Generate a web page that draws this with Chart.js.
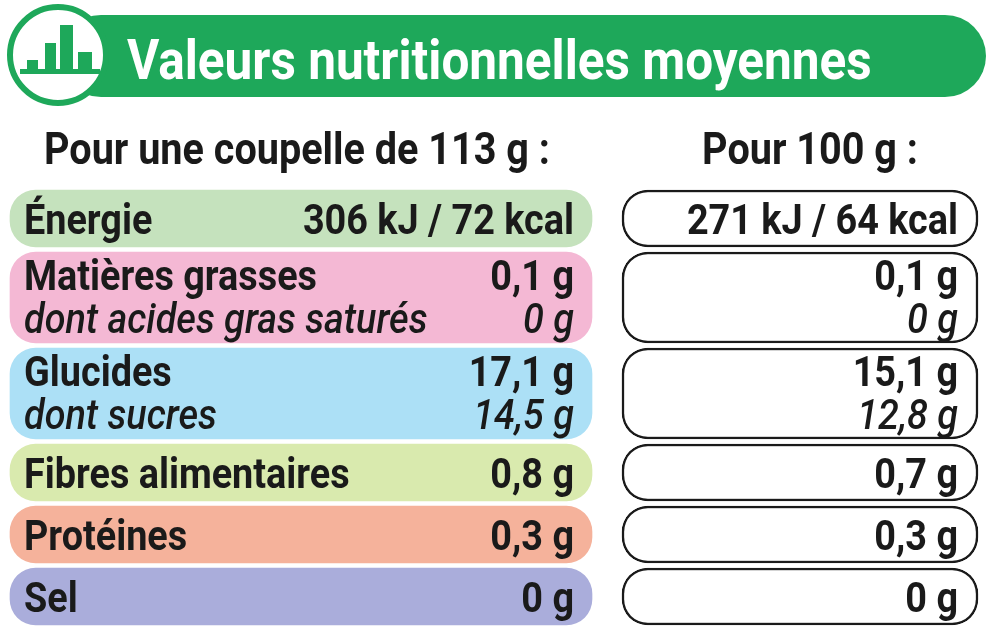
<!DOCTYPE html>
<html>
<head>
<meta charset="utf-8">
<script src="https://cdn.jsdelivr.net/npm/chart.js@4"></script>
<style>
  html, body { margin: 0; padding: 0; background: #fff; }
  canvas { display: block; }
</style>
</head>
<body>
<canvas id="myChart" width="988" height="640"></canvas>
<script>
const ctx = document.getElementById("myChart");

const title = "Valeurs nutritionnelles moyennes";
const colHeaders = ["Pour une coupelle de 113 g :", "Pour 100 g :"];
const nutrients = ["Énergie", "Matières grasses", "Glucides", "Fibres alimentaires", "Protéines", "Sel"];
const subNutrients = [null, "dont acides gras saturés", "dont sucres", null, null, null];
const perPortion = ["306 kJ / 72 kcal", "0,1 g", "17,1 g", "0,8 g", "0,3 g", "0 g"];
const perPortionSub = [null, "0 g", "14,5 g", null, null, null];
const per100 = ["271 kJ / 64 kcal", "0,1 g", "15,1 g", "0,7 g", "0,3 g", "0 g"];
const per100Sub = [null, "0 g", "12,8 g", null, null, null];
const rowColors = ["#c5e2bd", "#f4b8d4", "#ace0f6", "#d9eaae", "#f5b29b", "#aaaddb"];

const GREEN = "#1ea85a";
const FONT = "Roboto, 'Liberation Sans', sans-serif";
const SX = 0.9;

// row layout (pixel units on the reversed y scale)
const TOP = 190, ONE = 57, TWO = 91, GAP = 5;
const rows = [];
let yy = TOP;
nutrients.forEach((n, i) => {
  const h = subNutrients[i] ? TWO : ONE;
  rows.push({ top: yy, h: h, c: yy + h / 2 });
  yy += h + GAP;
});

function pts(x0, x1) {
  return rows.map(r => ({ x: [x0, x1], y: r.c }));
}
const single = rows.map(r => r.h === ONE);

function text(c, s, x, y, align, size, style, color) {
  c.save();
  c.font = style + " " + size + "px " + FONT;
  c.fillStyle = color || "#1a1a1a";
  c.textBaseline = "alphabetic";
  c.translate(x, y);
  c.scale(SX, 1);
  c.textAlign = align;
  c.fillText(s, 0, 0);
  c.restore();
}

const overlay = {
  id: "overlay",
  afterDatasetsDraw(chart) {
    const c = chart.ctx;
    const xs = chart.scales.x, ys = chart.scales.y;
    const X = v => xs.getPixelForValue(v), Y = v => ys.getPixelForValue(v);
    // header pill
    c.save();
    c.fillStyle = GREEN;
    c.beginPath();
    c.roundRect(X(60), Y(15), X(986) - X(60), Y(97) - Y(15), 41);
    c.fill();
    // icon circle
    c.beginPath();
    c.arc(X(58), Y(55), 48, 0, Math.PI * 2);
    c.fillStyle = "#fff";
    c.fill();
    c.lineWidth = 6;
    c.strokeStyle = GREEN;
    c.stroke();
    c.fillStyle = GREEN;
    c.fillRect(X(20), Y(69), 80, 5);
    [[27, 60, 11], [45, 43, 11], [60, 25, 13], [78, 52, 14]].forEach(b => {
      c.fillRect(X(b[0]), Y(b[1]), b[2], Y(70) - Y(b[1]));
    });
    c.restore();
    text(c, title, X(127), Y(79), "left", 55, "bold", "#fff");
    text(c, colHeaders[0], X(297), Y(164), "center", 44, "bold");
    text(c, colHeaders[1], X(810), Y(164), "center", 44, "bold");
    rows.forEach((r, i) => {
      const b1 = subNutrients[i] ? r.top + 38 : r.c + 15;
      text(c, nutrients[i], X(24), Y(b1), "left", 42, "bold");
      text(c, perPortion[i], X(574), Y(b1), "right", 42, "bold");
      text(c, per100[i], X(958), Y(b1), "right", 42, "bold");
      if (subNutrients[i]) {
        const b2 = r.top + 81;
        text(c, subNutrients[i], X(24), Y(b2), "left", 42, "italic 500");
        text(c, perPortionSub[i], X(574), Y(b2), "right", 42, "italic 500");
        text(c, per100Sub[i], X(958), Y(b2), "right", 42, "italic 500");
      }
    });
  }
};

new Chart(ctx, {
  type: "bar",
  data: {
    datasets: [
      {
        data: pts(10, 592).filter((p, i) => single[i]),
        backgroundColor: rowColors.filter((c, i) => single[i]),
        barThickness: ONE, borderRadius: 26, borderSkipped: false, grouped: false
      },
      {
        data: pts(10, 592).filter((p, i) => !single[i]),
        backgroundColor: rowColors.filter((c, i) => !single[i]),
        barThickness: TWO, borderRadius: 26, borderSkipped: false, grouped: false
      },
      {
        data: pts(622, 978).filter((p, i) => single[i]),
        backgroundColor: "#fff", borderColor: "#1a1a1a", borderWidth: 2.5,
        barThickness: ONE, borderRadius: 26, borderSkipped: false, grouped: false
      },
      {
        data: pts(622, 978).filter((p, i) => !single[i]),
        backgroundColor: "#fff", borderColor: "#1a1a1a", borderWidth: 2.5,
        barThickness: TWO, borderRadius: 26, borderSkipped: false, grouped: false
      }
    ]
  },
  options: {
    indexAxis: "y",
    responsive: false,
    animation: false,
    layout: { padding: 0 },
    plugins: { legend: { display: false }, tooltip: { enabled: false } },
    scales: {
      x: { type: "linear", min: 0, max: 988, display: false, offset: false },
      y: { type: "linear", min: 0, max: 640, reverse: true, display: false, offset: false, grid: { offset: false } }
    }
  },
  plugins: [overlay]
});
</script>
</body>
</html>
